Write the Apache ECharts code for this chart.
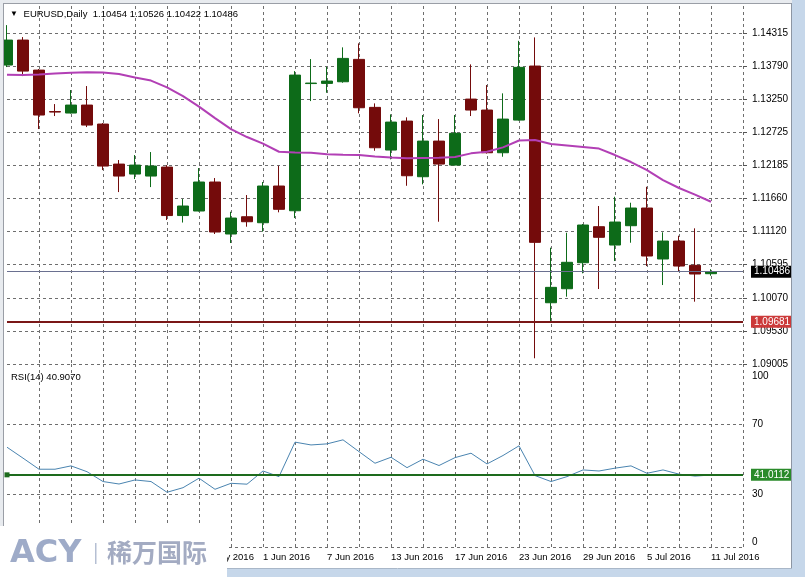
<!DOCTYPE html>
<html><head><meta charset="utf-8">
<script src="https://cdn.jsdelivr.net/npm/echarts@6/dist/echarts.min.js"></script>
<style>html,body{margin:0;padding:0;background:#fff}#c{width:805px;height:577px}</style>
</head><body><div id="c"></div>
<script>
const dates = ['10 May 2016','11 May 2016','12 May 2016','13 May 2016','16 May 2016','17 May 2016','18 May 2016','19 May 2016','20 May 2016','23 May 2016','24 May 2016','25 May 2016','26 May 2016','27 May 2016','30 May 2016','31 May 2016','1 Jun 2016','2 Jun 2016','3 Jun 2016','6 Jun 2016','7 Jun 2016','8 Jun 2016','9 Jun 2016','10 Jun 2016','13 Jun 2016','14 Jun 2016','15 Jun 2016','16 Jun 2016','17 Jun 2016','20 Jun 2016','21 Jun 2016','22 Jun 2016','23 Jun 2016','24 Jun 2016','27 Jun 2016','28 Jun 2016','29 Jun 2016','30 Jun 2016','1 Jul 2016','4 Jul 2016','5 Jul 2016','6 Jul 2016','7 Jul 2016','8 Jul 2016','11 Jul 2016','12 Jul 2016','13 Jul 2016'];
const opens  = [1.13802,1.14203,1.13721,1.13056,1.13032,1.13160,1.12855,1.12213,1.12053,1.12021,1.12165,1.11387,1.11460,1.11925,1.11091,1.11368,1.11272,1.11861,1.11464,1.13505,1.13508,1.13534,1.13893,1.13123,1.12438,1.12903,1.12010,1.12582,1.12197,1.13256,1.13080,1.12395,1.12919,1.13786,1.09988,1.10213,1.10630,1.11208,1.10914,1.11224,1.11508,1.10690,1.10978,1.10588,1.10454];
const closes = [1.14203,1.13705,1.13000,1.13048,1.13160,1.12839,1.12181,1.12021,1.12197,1.12181,1.11387,1.11540,1.11925,1.11123,1.11347,1.11288,1.11861,1.11487,1.13641,1.13513,1.13545,1.13909,1.13117,1.12475,1.12887,1.12026,1.12582,1.12213,1.12706,1.13080,1.12395,1.12935,1.13765,1.10957,1.10235,1.10637,1.11235,1.11038,1.11283,1.11508,1.10738,1.10978,1.10577,1.10449,1.10486];
const lows   = [1.13770,1.13625,1.12775,1.12984,1.13024,1.12807,1.12117,1.11764,1.11973,1.11844,1.11315,1.11275,1.11452,1.11091,1.10946,1.11208,1.11128,1.11439,1.11347,1.13224,1.13357,1.13518,1.13027,1.12427,1.12289,1.11865,1.11888,1.11288,1.12190,1.12984,1.12382,1.12331,1.12911,1.09097,1.09684,1.10085,1.10460,1.10208,1.10657,1.10951,1.10577,1.10272,1.10486,1.10005,1.10422];
const highs  = [1.14443,1.14251,1.13738,1.13176,1.13401,1.13465,1.12871,1.12278,1.12358,1.12406,1.12197,1.11652,1.12149,1.11989,1.11448,1.11716,1.11925,1.12186,1.13705,1.13898,1.13774,1.14086,1.14150,1.13187,1.13011,1.12963,1.13000,1.12935,1.13000,1.13813,1.13481,1.13348,1.14191,1.14246,1.10871,1.11111,1.11251,1.11540,1.11689,1.11593,1.11849,1.11118,1.11063,1.11182,1.10526];
const maValues = [1.13646,1.13641,1.13649,1.13665,1.13678,1.13685,1.13681,1.13657,1.13601,1.13553,1.13444,1.13304,1.13136,1.12951,1.12775,1.12647,1.12542,1.12411,1.12398,1.12395,1.12369,1.12363,1.12358,1.12334,1.12318,1.12305,1.12310,1.12315,1.12326,1.12385,1.12411,1.12481,1.12591,1.12599,1.12534,1.12510,1.12486,1.12462,1.12358,1.12246,1.12117,1.11957,1.11829,1.11724,1.11609];
const rsiValues = [56.7,50.5,44.2,44.2,46.1,42.8,37.2,35.8,38.1,37.2,31.1,33.7,39.1,32.8,36.2,35.7,43.2,40.0,59.6,58.0,58.6,60.9,54.2,47.6,51.0,45.1,49.9,46.3,50.8,53.3,47.2,52.0,57.5,40.6,37.2,40.0,43.8,43.2,44.8,46.1,41.9,43.8,41.4,40.3,40.907];
const priceTickLabels = ['1.09005','1.09530','1.10070','1.10595','1.11120','1.11660','1.12185','1.12725','1.13250','1.13790','1.14315'];
const rsiTickLabels = [0,30,70,100];
const rsiLevels = [30,70,0];
const lastPrice = 1.10486;
const levelPrice = 1.09681;
const rsiLine = 41.0112;

const FONT = '"Liberation Sans", Arial, sans-serif';
const GRID = '#6e6e6e';
const n = opens.length;
const candleData = opens.map((o,i)=>[o, closes[i], lows[i], highs[i]]);

function xAxisOf(gi, labels){
  return {
    type:'category', gridIndex:gi, data:dates, boundaryGap:false,
    axisLine:{show:false}, axisTick:{show:false},
    axisLabel: labels ? {show:true, interval:(i)=>i%4===0, align:'left', margin:5,
      color:'#000', fontSize:9.5, fontFamily:FONT} : {show:false},
    splitLine:{show:true, interval:(i)=>i>0 && i%2===0, lineStyle:{color:GRID, type:[3,3], width:1}}
  };
}
const boxLabel = (txt, bg) => ({show:true, position:'end', distance:8, formatter:txt, color:'#fff',
  backgroundColor:bg, padding:[1,3,1,3], fontSize:10, fontFamily:FONT});

const chart = echarts.init(document.getElementById('c'));
chart.setOption({
  animation:false,
  backgroundColor:'#fff',
  title:[
    {text:'{tri|▼} EURUSD,Daily  '+opens[n-1].toFixed(5)+' '+highs[n-1].toFixed(5)+' '+lows[n-1].toFixed(5)+' '+closes[n-1].toFixed(5),
     left:10, top:9, padding:0,
     textStyle:{fontSize:9.5, fontWeight:'normal', color:'#000', fontFamily:FONT, rich:{tri:{fontSize:8, color:'#000', padding:[0,3,0,0]}}}},
    {text:'RSI(14) '+rsiValues[n-1].toFixed(4), left:11, top:372, padding:0,
     textStyle:{fontSize:9.5, fontWeight:'normal', color:'#000', fontFamily:FONT}}
  ],
  grid:[
    {left:7, right:62, top:0, height:364},
    {left:7, right:62, top:364, height:183}
  ],
  xAxis:[xAxisOf(0,false), xAxisOf(1,true)],
  yAxis:[
    {type:'value', gridIndex:0, min:1.09005, max:1.14846, show:false},
    {type:'value', gridIndex:0, position:'right', min:0, max:11, interval:1,
     axisLine:{show:false}, axisTick:{show:true, length:4, lineStyle:{color:'#555'}},
     axisLabel:{margin:9, color:'#000', fontSize:10, fontFamily:FONT, formatter:(v)=>priceTickLabels[v]||''},
     splitLine:{show:true, showMaxLine:false, lineStyle:{color:GRID, type:[3,3], width:1}}},
    {type:'value', gridIndex:1, position:'right', min:0, max:104, interval:10,
     axisLine:{show:false}, axisTick:{show:false},
     axisLabel:{margin:9, color:'#000', fontSize:10, fontFamily:FONT,
       formatter:(v)=>{ if(!rsiTickLabels.includes(v)) return ''; if(v===100) return '{t|100}'; if(v===0) return '{b|0}'; return String(v); },
       rich:{t:{padding:[10,0,0,0], fontSize:10, color:'#000', fontFamily:FONT}, b:{padding:[0,0,10,0], fontSize:10, color:'#000', fontFamily:FONT}}},
     splitLine:{show:false}}
  ],
  series:[
    {type:'candlestick', xAxisIndex:0, yAxisIndex:0, data:candleData, barWidth:11, clip:true, z:2,
     itemStyle:{color:'#0d6b19', color0:'#740b0b', borderColor:'#0d6b19', borderColor0:'#740b0b', borderWidth:1}},
    {type:'line', xAxisIndex:0, yAxisIndex:0, data:maValues, symbol:'none', showSymbol:false,
     lineStyle:{color:'#b23fb5', width:2}, z:4,
     markLine:{silent:true, symbol:['none','none'], animation:false, precision:5,
       data:[
         {yAxis:lastPrice, lineStyle:{color:'#6a7090', width:1, type:'solid'}, label:boxLabel(lastPrice.toFixed(5), '#000')},
         {yAxis:levelPrice, lineStyle:{color:'#7a1717', width:2, type:'solid'}, label:boxLabel(levelPrice.toFixed(5), '#cc3a3a')}
       ]}},
    {type:'line', xAxisIndex:1, yAxisIndex:2, data:rsiValues, symbol:'none', showSymbol:false,
     lineStyle:{color:'#4a84b0', width:1}, z:3,
     markLine:{silent:true, symbol:['none','none'], animation:false, precision:4, label:{show:false},
       data: rsiLevels.map(v=>({yAxis:v, lineStyle:{color:GRID, type:[3,3], width:1}})).concat([
         {yAxis:rsiLine, symbol:['emptyRect','emptyRect'], symbolSize:5,
          lineStyle:{color:'#1d6b1d', width:2, type:'solid'}, label:boxLabel(rsiLine.toFixed(4), '#2a8a2a')}
       ])}}
  ],
  graphic:[
    {type:'rect', left:0, top:0, shape:{width:805, height:3}, style:{fill:'#e8ebef'}, z:90, silent:true},
    {type:'rect', left:0, top:0, shape:{width:3, height:577}, style:{fill:'#e8ebef'}, z:90, silent:true},
    {type:'rect', left:792, top:0, shape:{width:13, height:577}, style:{fill:'#c6d7ea'}, z:90, silent:true},
    {type:'rect', left:0, top:569, shape:{width:805, height:8}, style:{fill:'#c6d7ea'}, z:90, silent:true},
    {type:'line', shape:{x1:3, y1:3.5, x2:792, y2:3.5}, style:{stroke:'#9a9ea6', lineWidth:1}, z:91, silent:true},
    {type:'line', shape:{x1:3.5, y1:3, x2:3.5, y2:569}, style:{stroke:'#9a9ea6', lineWidth:1}, z:91, silent:true},
    {type:'line', shape:{x1:791.5, y1:3, x2:791.5, y2:569}, style:{stroke:'#8d96a3', lineWidth:1}, z:91, silent:true},
    {type:'line', shape:{x1:3, y1:568.5, x2:792, y2:568.5}, style:{stroke:'#a9b7c8', lineWidth:1}, z:91, silent:true},
    {type:'rect', left:0, top:526, shape:{width:227, height:51}, style:{fill:'#fff'}, z:100, silent:true},
    {type:'text', left:10, top:538, style:{text:'ACY', font:'bold 32px "DejaVu Sans"', fill:'#9eabc8'}, z:101, silent:true},
    {type:'rect', left:95, top:543, shape:{width:1.5, height:21}, style:{fill:'#b5bfd3'}, z:101, silent:true},
    {type:'text', left:107, top:540, style:{text:'稀万国际', font:'bold 25px "Noto Sans CJK SC"', fill:'#a3abc2'}, z:101, silent:true}
  ]
});
</script></body></html>
